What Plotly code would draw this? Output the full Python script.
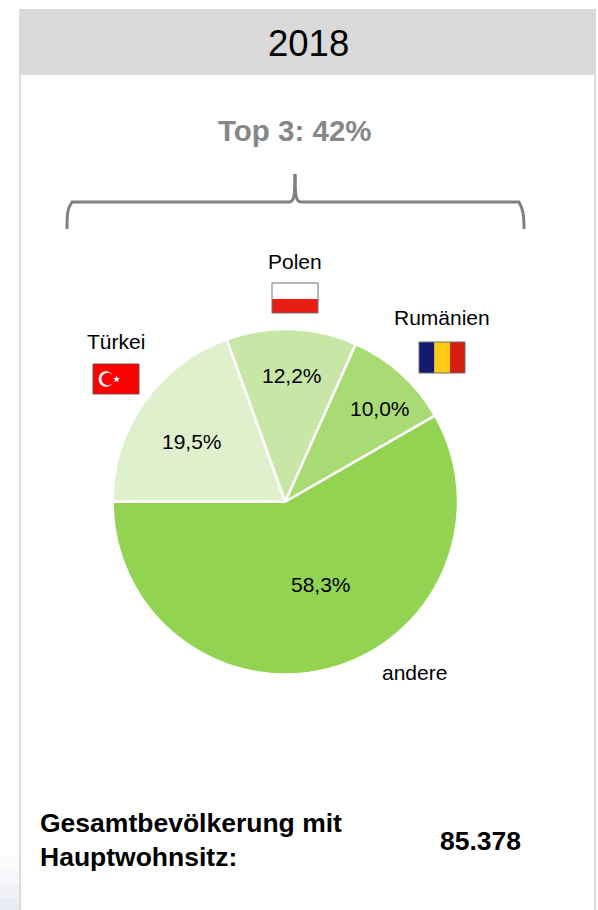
import plotly.graph_objects as go

W, H = 598, 910
categories = ["Türkei", "Polen", "Rumänien", "andere"]
values = [19.5, 12.2, 10.0, 58.3]
colors = ["#DFF0CC", "#C8E6A5", "#A9DB74", "#93D352"]
title = "2018"
top3 = "Top 3: 42%"
total_label = "Gesamtbevölkerung mit<br>Hauptwohnsitz:"
total_value = "85.378"
FONT = "Liberation Sans, Arial, sans-serif"


def px(x):
    return x / W


def py(y):
    return 1 - y / H


def rect(x0, y0, x1, y1, fill, line=None, lw=1):
    return dict(type="rect", xref="paper", yref="paper", x0=px(x0), x1=px(x1), y0=py(y0), y1=py(y1),
                fillcolor=fill, line=dict(color=line or fill, width=lw if line else 0), layer="above")


def path(points, **kw):
    d = ""
    for cmd, coords in points:
        d += cmd + " ".join(f"{px(a):.5f},{py(b):.5f}" for a, b in coords) + " "
    return dict(type="path", xref="paper", yref="paper", path=d, layer="above", **kw)


def text(x, y, s, size, color="#000000", bold=False, align="center", anchor="center"):
    return dict(xref="paper", yref="paper", x=px(x), y=py(y), text=f"<b>{s}</b>" if bold else s,
                showarrow=False, font=dict(family=FONT, size=size, color=color), align=align,
                xanchor=anchor, yanchor="middle")


fig = go.Figure(go.Pie(
    labels=categories, values=values, sort=False, direction="clockwise", rotation=270,
    marker=dict(colors=colors, line=dict(color="#FFFFFF", width=2.5)),
    textinfo="none", showlegend=False, hoverinfo="label+percent",
    domain=dict(x=[px(112.5), px(458)], y=[py(674.5), py(329)]),
))

star = [(116.5, 375.6), (117.4, 378), (120, 378.1), (118, 379.7), (118.7, 382.2),
        (116.5, 380.8), (114.3, 382.2), (115, 379.7), (113, 378.1), (115.6, 378)]

shapes = [
    # soft shadow at the bottom left, outside the card
    rect(0, 855, 19, 870, "#FBFBFD"),
    rect(0, 870, 19, 885, "#F6F7FB"),
    rect(0, 885, 19, 898, "#EFF1F7"),
    rect(0, 898, 19, 910, "#E9ECF4"),
    # card frame and header
    rect(19, 9, 21, 910, "#DCDCDC"),
    rect(594, 75, 596, 910, "#DCDCDC"),
    rect(19, 9, 596, 75, "#D9D9D9"),
    # bracket
    path([("M", [(67, 229)]), ("C", [(67, 215), (67, 209), (72, 202)]), ("L", [(289, 202)]),
          ("C", [(294, 202), (295, 196), (295, 174)])],
         line=dict(color="#7F7F7F", width=3)),
    path([("M", [(295, 174)]), ("C", [(295, 196), (296, 202), (301, 202)]), ("L", [(519, 202)]),
          ("C", [(523, 209), (524, 215), (524, 229)])],
         line=dict(color="#7F7F7F", width=3)),
    # Polish flag
    rect(272, 283, 318, 300, "#FFFFFF"),
    rect(272, 299, 318, 313, "#E81E14"),
    rect(272, 283, 318, 313, "rgba(0,0,0,0)", "#6E6E6E", 1),
    # Romanian flag
    rect(419, 342, 434.5, 373, "#141A70"),
    rect(434.5, 342, 450, 373, "#FFCC11"),
    rect(450, 342, 465, 373, "#D6200E"),
    rect(419, 342, 465, 373, "rgba(0,0,0,0)", "#6E6E6E", 1),
    # Turkish flag
    rect(93, 364, 139, 394, "#FF0000", "#6E5050", 1),
    dict(type="circle", xref="paper", yref="paper", x0=px(98.5), x1=px(113.5), y0=py(386.7), y1=py(371.3),
         fillcolor="#FFFFFF", line=dict(width=0), layer="above"),
    dict(type="circle", xref="paper", yref="paper", x0=px(101.5), x1=px(114), y0=py(385.2), y1=py(372.8),
         fillcolor="#FF0000", line=dict(width=0), layer="above"),
    path([("M", [star[0]])] + [("L", [p]) for p in star[1:]] + [("Z", [])],
         fillcolor="#FFFFFF", line=dict(width=0)),
]

annotations = [
    text(308, 43, title, 36.5),
    text(295, 131, top3, 29.5, color="#878787", bold=True),
    text(295, 261, categories[1], 21),
    text(442, 317, categories[2], 21),
    text(116, 341, categories[0], 21),
    text(414, 672, categories[3], 21),
    text(192, 441, f"{values[0]:.1f}%".replace(".", ","), 21),
    text(292, 375, f"{values[1]:.1f}%".replace(".", ","), 21),
    text(380, 409, f"{values[2]:.1f}%".replace(".", ","), 21),
    text(321, 584, f"{values[3]:.1f}%".replace(".", ","), 21),
    text(38, 840, total_label, 26.5, bold=True, align="left", anchor="left"),
    text(480.5, 841, total_value, 26.5, bold=True),
]

fig.update_layout(width=W, height=H, margin=dict(l=0, r=0, t=0, b=0), paper_bgcolor="#FFFFFF",
                  shapes=shapes, annotations=annotations, font=dict(family=FONT))
fig.write_html("out.html", config=dict(displayModeBar=False),
               post_script="document.body.style.margin='0';document.body.style.overflow='hidden';")
